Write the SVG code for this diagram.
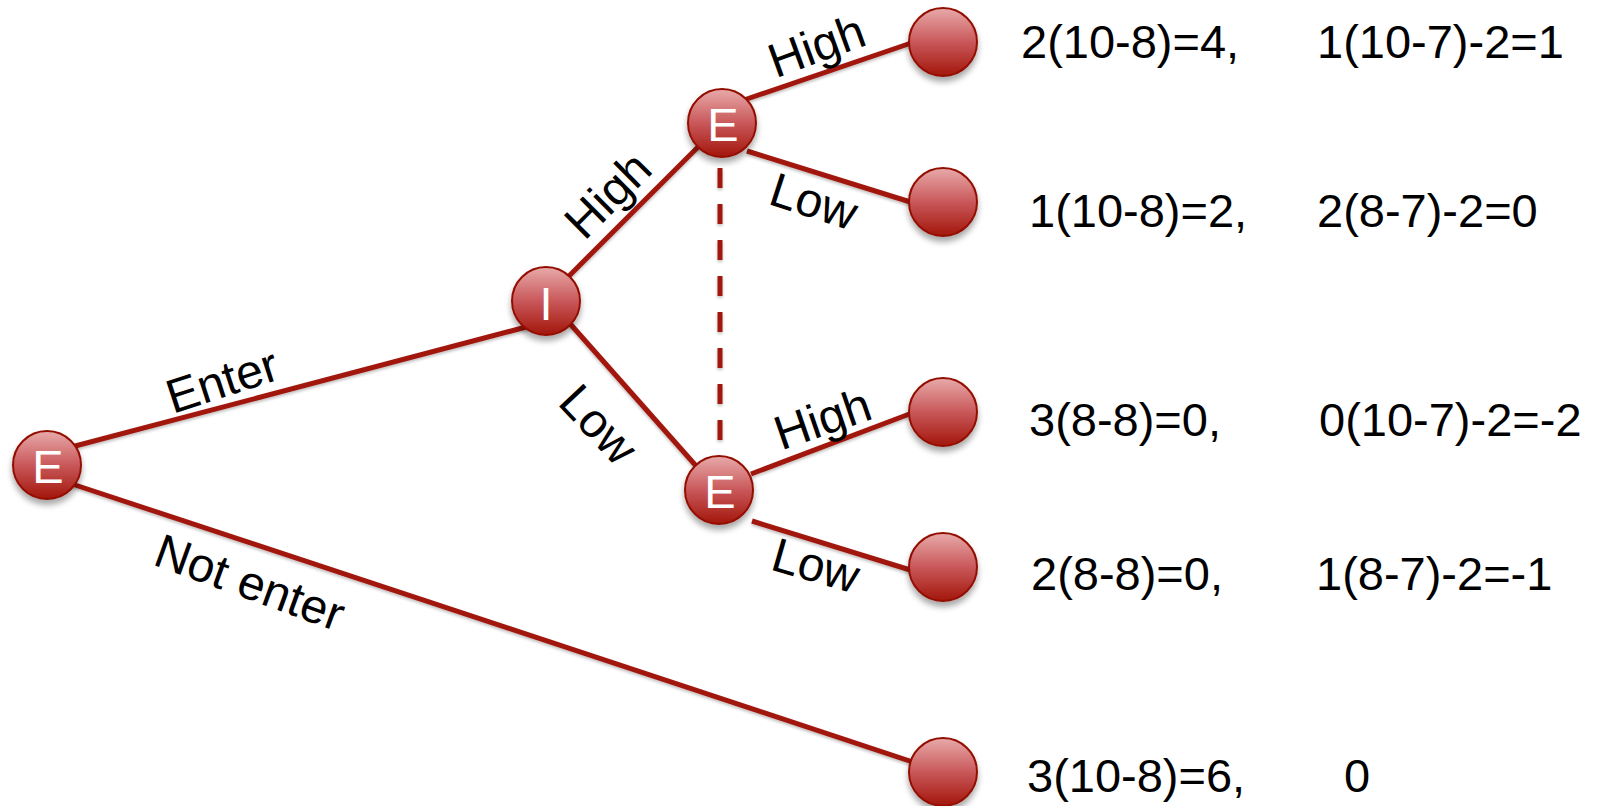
<svg xmlns="http://www.w3.org/2000/svg" width="1598" height="806" viewBox="0 0 1598 806">
<defs>
<linearGradient id="ball" x1="0" y1="0" x2="0" y2="1">
<stop offset="0" stop-color="#E8AAAA"/>
<stop offset="0.5" stop-color="#C9585A"/>
<stop offset="1" stop-color="#A3160B"/>
</linearGradient>
<filter id="sh" x="-30%" y="-30%" width="160%" height="170%">
<feGaussianBlur in="SourceAlpha" stdDeviation="3"/>
<feOffset dx="0" dy="5" result="b"/>
<feComponentTransfer><feFuncA type="linear" slope="0.35"/></feComponentTransfer>
<feMerge><feMergeNode/><feMergeNode in="SourceGraphic"/></feMerge>
</filter>
<filter id="lsh" x="-10%" y="-10%" width="120%" height="120%">
<feGaussianBlur in="SourceAlpha" stdDeviation="1.5"/>
<feOffset dx="0" dy="2"/>
<feComponentTransfer><feFuncA type="linear" slope="0.25"/></feComponentTransfer>
<feMerge><feMergeNode/><feMergeNode in="SourceGraphic"/></feMerge>
</filter>
</defs>
<style>
.edge{stroke:#A1190C;stroke-width:5;fill:none;stroke-linecap:butt}
.dash{stroke:#A1190C;stroke-width:5;fill:none;stroke-dasharray:20 16}
.node{fill:url(#ball);stroke:#930F04;stroke-width:2;filter:url(#sh)}
.nl{font-family:"Liberation Sans",Arial,sans-serif;font-size:47px;fill:#FFFFFF;text-anchor:middle}
.lab{font-family:"Liberation Sans",Arial,sans-serif;font-size:48px;fill:#000000;text-anchor:middle}
.val{font-family:"Liberation Sans",Arial,sans-serif;font-size:47px;fill:#000000}
</style>
<rect width="1598" height="806" fill="#FFFFFF"/>
<g id="connectors" filter="url(#lsh)">
<line class="edge" x1="60" y1="450" x2="530" y2="326"/>
<line class="edge" x1="60" y1="480" x2="925" y2="766"/>
<line class="edge" x1="560" y1="285" x2="705" y2="140"/>
<line class="edge" x1="565" y1="318" x2="705" y2="476"/>
<line class="edge" x1="744" y1="100" x2="920" y2="40"/>
<line class="edge" x1="747" y1="151" x2="920" y2="205"/>
<line class="edge" x1="751" y1="474" x2="920" y2="410"/>
<line class="edge" x1="752" y1="521" x2="920" y2="573"/>
<line class="dash" x1="720" y1="168" x2="720" y2="455"/>
</g>
<g id="n-root"><circle class="node" cx="47" cy="465" r="34"/><text class="nl" x="48" y="483">E</text></g>
<g id="n-I"><circle class="node" cx="546" cy="301" r="34"/><text class="nl" x="546" y="320">I</text></g>
<g id="n-E1"><circle class="node" cx="722" cy="123" r="34"/><text class="nl" x="723" y="141">E</text></g>
<g id="n-E2"><circle class="node" cx="719" cy="490" r="34"/><text class="nl" x="720" y="508">E</text></g>
<g id="leaf1"><circle class="node" cx="943" cy="42" r="34"/></g>
<g id="leaf2"><circle class="node" cx="943" cy="202" r="34"/></g>
<g id="leaf3"><circle class="node" cx="943" cy="412" r="34"/></g>
<g id="leaf4"><circle class="node" cx="943" cy="567" r="34"/></g>
<g id="leaf5"><circle class="node" cx="943" cy="772" r="34"/></g>
<g id="labels">
<text class="lab" transform="translate(222,380) rotate(-18)" y="17">Enter</text>
<text class="lab" transform="translate(250,582) rotate(20)" y="17">Not enter</text>
<text class="lab" transform="translate(611,198) rotate(-45)" y="12">High</text>
<text class="lab" transform="translate(599,424) rotate(47)" y="17">Low</text>
<text class="lab" transform="translate(818,50) rotate(-20)" y="12">High</text>
<text class="lab" transform="translate(814,201) rotate(18)" y="17">Low</text>
<text class="lab" transform="translate(824,423) rotate(-19)" y="12">High</text>
<text class="lab" transform="translate(816,565) rotate(16)" y="17">Low</text>
</g>
<g id="payoffs">
<text class="val" x="1021" y="58">2(10-8)=4,</text>
<text class="val" x="1317" y="58">1(10-7)-2=1</text>
<text class="val" x="1029" y="227">1(10-8)=2,</text>
<text class="val" x="1317" y="227">2(8-7)-2=0</text>
<text class="val" x="1029" y="436">3(8-8)=0,</text>
<text class="val" x="1319" y="436">0(10-7)-2=-2</text>
<text class="val" x="1031" y="590">2(8-8)=0,</text>
<text class="val" x="1316" y="590">1(8-7)-2=-1</text>
<text class="val" x="1027" y="792">3(10-8)=6,</text>
<text class="val" x="1344" y="792">0</text>
</g>
</svg>
